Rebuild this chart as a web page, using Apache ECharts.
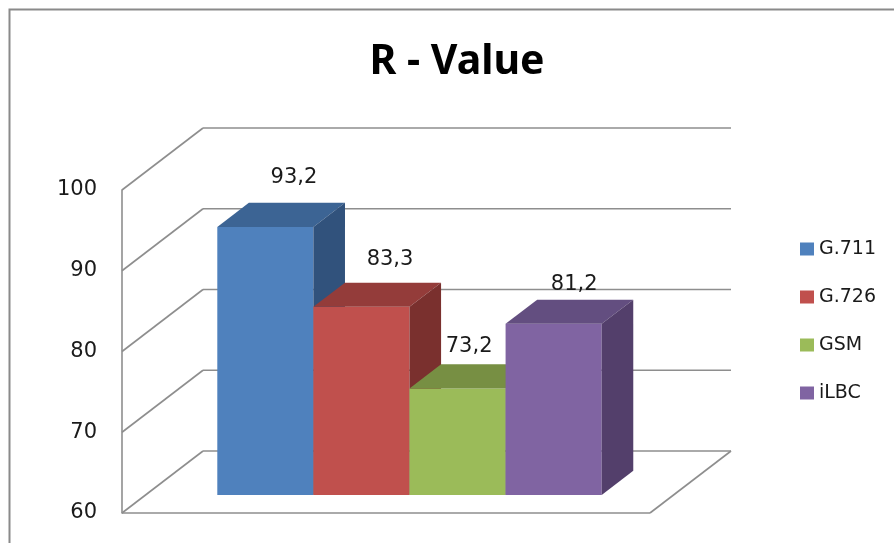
<!DOCTYPE html>
<html>
<head>
<meta charset="utf-8">
<script src="https://cdn.jsdelivr.net/npm/echarts@6/dist/echarts.min.js"></script>
<style>
  html, body { margin: 0; padding: 0; background: #ffffff; }
  #chart { width: 894px; height: 543px; }
</style>
</head>
<body>
<div id="chart"></div>
<script>
// Chart data
const categories = ['R - Value'];
const seriesNames = ['G.711', 'G.726', 'GSM', 'iLBC'];
const values = [93.2, 83.3, 73.2, 81.2];
const yTicks = [60, 70, 80, 90, 100];

// Face colours for the 3D columns: front, top, right side
const frontColors = ['#4F81BD', '#C0504D', '#9BBB59', '#8064A2'];
const topColors = ['#3C6494', '#943C3A', '#778F43', '#634E80'];
const sideColors = ['#31527C', '#7A302E', '#627636', '#533F6B'];

// Value-label nudges (pixels) away from the back edge of each column top
const labelNudge = [[-3, 0], [-3, 2], [-20, 7], [-11, 10]];

// Oblique projection of the floor depth (pixels) and column layout in the cluster
const DX = 81, DY = -62;
const T0 = 0.29;      // depth of the column front faces
const DEPTH = 0.39;   // column depth as a share of the floor depth
const GAP = 0.136;    // side gap as a share of the category band
const BAR = 0.182;    // column width as a share of the category band

const GRID_COLOR = '#8E8E8E';
const Y_MIN = yTicks[0], Y_MAX = yTicks[yTicks.length - 1];

const fmt = v => v.toFixed(1).replace('.', ',');

const chart = echarts.init(document.getElementById('chart'), null, { renderer: 'canvas' });

function wallItem(params, api) {
  const v = api.value(1);
  const p = api.coord([0, v]);
  const w = api.size([1, 0])[0];
  const xl = p[0] - w / 2, xr = p[0] + w / 2, y = p[1];
  const style = { stroke: GRID_COLOR, lineWidth: 1.6, fill: null };
  const children = [
    { type: 'line', shape: { x1: xl, y1: y, x2: xl + DX, y2: y + DY }, style },
    { type: 'line', shape: { x1: xl + DX, y1: y + DY, x2: xr + DX, y2: y + DY }, style }
  ];
  if (v === Y_MIN) {
    children.push({ type: 'line', shape: { x1: xl, y1: y, x2: xr, y2: y }, style });
    children.push({ type: 'line', shape: { x1: xr, y1: y, x2: xr + DX, y2: y + DY }, style });
  }
  return { type: 'group', children };
}

function columnItem(i) {
  return function (params, api) {
    const v = api.value(1);
    const base = api.coord([0, Y_MIN]);
    const top = api.coord([0, v]);
    const w = api.size([1, 0])[0];
    const bw = w * BAR;
    const x0 = base[0] - w / 2 + w * GAP + i * bw + DX * T0;
    const yb = base[1] + DY * T0;
    const yt = top[1] + DY * T0;
    const ddx = DX * DEPTH, ddy = DY * DEPTH;
    return {
      type: 'group',
      children: [
        { type: 'rect', shape: { x: x0, y: yt, width: bw, height: yb - yt },
          style: { fill: frontColors[i] } },
        { type: 'polygon', shape: { points: [[x0, yt], [x0 + bw, yt], [x0 + bw + ddx, yt + ddy], [x0 + ddx, yt + ddy]] },
          style: { fill: topColors[i] } },
        { type: 'polygon', shape: { points: [[x0 + bw, yt], [x0 + bw + ddx, yt + ddy], [x0 + bw + ddx, yb + ddy], [x0 + bw, yb]] },
          style: { fill: sideColors[i] } },
        { type: 'text',
          x: x0 + bw / 2 + ddx + labelNudge[i][0],
          y: yt + ddy - 25 + labelNudge[i][1],
          style: { text: fmt(v), fill: '#1a1a1a', font: '21px "DejaVu Sans"', align: 'center', verticalAlign: 'middle' } }
      ]
    };
  };
}

const series = [{
  type: 'custom',
  name: 'walls',
  silent: true,
  renderItem: wallItem,
  data: yTicks.map(v => [0, v]),
  z: 1
}];
seriesNames.forEach((name, i) => {
  series.push({
    type: 'custom',
    name: name,
    renderItem: columnItem(i),
    itemStyle: { color: frontColors[i] },
    data: [[0, values[i]]],
    z: 2
  });
});

chart.setOption({
  animation: false,
  backgroundColor: '#ffffff',
  title: {
    text: 'R - Value',
    left: 452,
    textAlign: 'center',
    top: 37,
    textStyle: { fontFamily: 'Noto Sans', fontWeight: 'bold', fontSize: 41, color: '#000000' }
  },
  graphic: [{
    type: 'rect',
    shape: { x: 9.5, y: 9.5, width: 1000, height: 1000 },
    style: { fill: null, stroke: '#8A8A8A', lineWidth: 2 },
    silent: true
  }],
  legend: {
    data: seriesNames,
    orient: 'vertical',
    left: 795,
    top: 234,
    icon: 'rect',
    itemWidth: 14,
    itemHeight: 13,
    itemGap: 28,
    textStyle: { fontFamily: 'DejaVu Sans', fontSize: 19, color: '#1a1a1a', lineHeight: 20 }
  },
  grid: { left: 122, top: 190, width: 528, height: 323 },
  xAxis: {
    type: 'category',
    data: categories,
    show: false
  },
  yAxis: {
    type: 'value',
    min: Y_MIN,
    max: Y_MAX,
    interval: 10,
    axisLine: { show: true, lineStyle: { color: GRID_COLOR, width: 1.6 } },
    axisTick: { show: false },
    splitLine: { show: false },
    axisLabel: { margin: 25, fontFamily: 'DejaVu Sans', fontSize: 21, color: '#1a1a1a' }
  },
  series: series
});
</script>
</body>
</html>
